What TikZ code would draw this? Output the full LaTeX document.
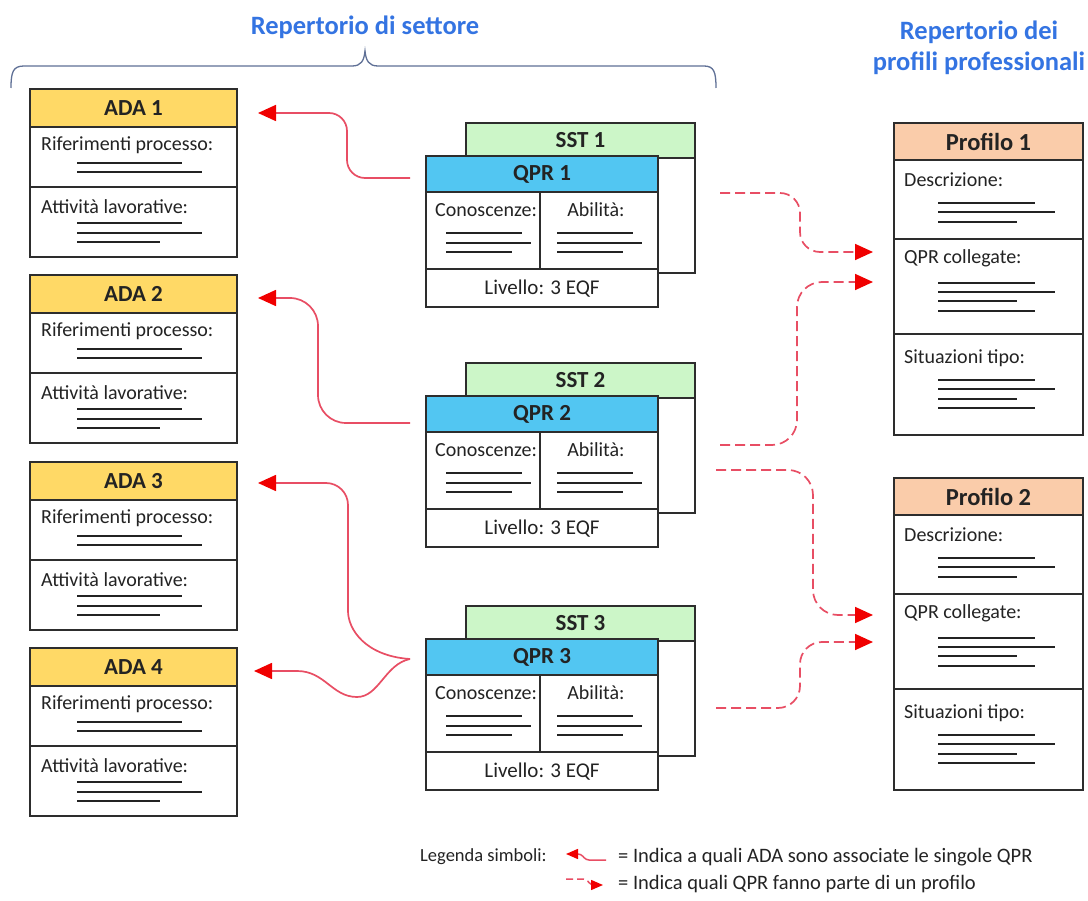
\documentclass[tikz,border=0pt]{standalone}
\usepackage{fontspec}
\setmainfont{Carlito}
\usetikzlibrary{arrows.meta,calc}

\definecolor{adafill}{RGB}{255,217,102}
\definecolor{sstfill}{RGB}{204,246,200}
\definecolor{qprfill}{RGB}{82,198,242}
\definecolor{proffill}{RGB}{250,204,170}
\definecolor{boxdraw}{RGB}{45,45,45}
\definecolor{txt}{RGB}{35,35,35}
\definecolor{titleblue}{RGB}{52,116,226}
\definecolor{bracecol}{RGB}{95,112,150}
\definecolor{linkred}{RGB}{232,78,100}
\definecolor{tipred}{RGB}{240,0,0}

\tikzset{
  boxframe/.style={draw=boxdraw, line width=1.7pt, rectangle, inner sep=0pt, outer sep=0pt, anchor=north west},
  hdr/.style={boxframe, font=\fontsize{23}{26}\selectfont\bfseries, text=txt},
  lbl/.style={font=\fontsize{20}{23}\selectfont, text=txt, inner sep=0pt, anchor=west},
  leg/.style={font=\fontsize{20.5}{24}\selectfont, text=txt, inner sep=0pt, anchor=west},
  title/.style={font=\fontsize{26.5}{31}\selectfont\bfseries, text=titleblue, inner sep=0pt, align=center},
  fillline/.style={draw=txt, line width=1.5pt},
  sepline/.style={draw=boxdraw, line width=1.7pt},
  solidarr/.style={draw=linkred, line width=1.7pt, -{Triangle[length=18pt,width=16pt,color=tipred]}},
  dasharr/.style={solidarr, dash pattern=on 10pt off 5pt},
  legsolid/.style={draw=linkred, line width=1.5pt, -{Triangle[length=12pt,width=10pt,color=tipred]}},
  legdash/.style={legsolid, dash pattern=on 7pt off 4pt},
}

% ADA card: name, top edge, title
\newcommand\adablock[3]{%
  \node[boxframe, minimum width=207pt, minimum height=168pt] (#1) at (30,#2) {};
  \node[hdr, fill=adafill, minimum width=207pt, minimum height=38pt] (#1h) at (30,#2) {#3};
  \draw[sepline] (30,{#2+98}) -- (237,{#2+98});
  \node[lbl] (#1r) at (41,{#2+56}) {Riferimenti processo:};
  \draw[fillline] (77,{#2+74}) -- (182,{#2+74}) (77,{#2+83}) -- (202,{#2+83});
  \node[lbl] (#1a) at (41,{#2+118}) {Attività lavorative:};
  \draw[fillline] (77,{#2+134}) -- (182,{#2+134}) (77,{#2+144}) -- (202,{#2+144})
                  (77,{#2+153}) -- (160,{#2+153});
}

% SST card with its QPR card in front: index, top edge of the SST card
\newcommand\qprblock[2]{%
  \node[boxframe, fill=white, minimum width=229pt, minimum height=150pt] (sst#1) at (466,#2) {};
  \node[hdr, fill=sstfill, minimum width=229pt, minimum height=35pt] (sst#1h) at (466,#2) {SST #1};
  \node[boxframe, fill=white, minimum width=232pt, minimum height=151pt] (qprbox#1) at (426,{#2+33}) {};
  \node[hdr, fill=qprfill, minimum width=232pt, minimum height=36pt] (qpr#1) at (426,{#2+33}) {QPR #1};
  \draw[sepline] (426,{#2+146}) -- (658,{#2+146}) (540,{#2+69}) -- (540,{#2+146});
  \node[lbl] (con#1) at (435,{#2+87}) {Conoscenze:};
  \node[lbl, anchor=center] (abi#1) at (596,{#2+87}) {Abilità:};
  \draw[fillline] (446,{#2+110}) -- (522,{#2+110}) (446,{#2+120}) -- (531,{#2+120})
                  (446,{#2+129}) -- (512,{#2+129});
  \draw[fillline] (557,{#2+110}) -- (633,{#2+110}) (557,{#2+120}) -- (642,{#2+120})
                  (557,{#2+129}) -- (623,{#2+129});
  \node[lbl, anchor=center, font=\fontsize{21}{24}\selectfont] (liv#1) at (542,{#2+166}) {Livello: 3 EQF};
}

% Profile card: name, top edge, title
\newcommand\profblock[3]{%
  \node[boxframe, minimum width=189pt, minimum height=312pt] (#1) at (894,#2) {};
  \node[hdr, fill=proffill, minimum width=189pt, minimum height=37pt, font=\fontsize{24.5}{28}\selectfont\bfseries] (#1h) at (894,#2) {#3};
  \draw[sepline] (894,{#2+116}) -- (1083,{#2+116}) (894,{#2+211}) -- (1083,{#2+211});
  \node[lbl] (#1d) at (904,{#2+57}) {Descrizione:};
  \draw[fillline] (938,{#2+80}) -- (1035,{#2+80}) (938,{#2+89}) -- (1055,{#2+89})
                  (938,{#2+99}) -- (1017,{#2+99});
  \node[lbl] (#1q) at (904,{#2+135}) {QPR collegate:};
  \draw[fillline] (938,{#2+160}) -- (1035,{#2+160}) (938,{#2+169}) -- (1055,{#2+169})
                  (938,{#2+178}) -- (1017,{#2+178}) (938,{#2+188}) -- (1035,{#2+188});
  \node[lbl] (#1s) at (904,{#2+235}) {Situazioni tipo:};
  \draw[fillline] (938,{#2+257}) -- (1035,{#2+257}) (938,{#2+266}) -- (1055,{#2+266})
                  (938,{#2+276}) -- (1017,{#2+276}) (938,{#2+285}) -- (1035,{#2+285});
}

\begin{document}
\begin{tikzpicture}[x=1pt,y=-1pt]
  \fill[white] (0,0) rectangle (1088,901);
  \useasboundingbox (0,0) rectangle (1088,901);

  % headings
  \node[title] (tsett) at (365,27) {Repertorio di settore};
  \node[title] (tprof) at (979,48) {Repertorio dei\\profili professionali};

  % curly bracket over the sector repertory
  \draw[bracecol, line width=1.3pt]
    (11,88) .. controls (11,72) and (13,66) .. (24,66) -- (352,66)
    .. controls (361,66) and (364,61) .. (365,51)
    .. controls (366,61) and (369,66) .. (378,66) -- (704,66)
    .. controls (714,66) and (716,72) .. (716,88);

  % cards
  \adablock{ada1}{89}{ADA 1}
  \adablock{ada2}{275}{ADA 2}
  \adablock{ada3}{462}{ADA 3}
  \adablock{ada4}{648}{ADA 4}

  \qprblock{1}{123}
  \qprblock{2}{363}
  \qprblock{3}{606}

  \profblock{prof1}{123}{Profilo 1}
  \profblock{prof2}{478}{Profilo 2}

  % QPR -> ADA links
  \draw[solidarr, rounded corners=18pt]
    ($(qpr1.west)+(-16,4)$) -| ($(ada1h.east)+(110,5)$) -- ($(ada1h.east)+(21,5)$);
  \draw[solidarr, rounded corners=28pt]
    ($(qpr2.west)+(-16,9)$) -| ($(ada2h.east)+(81,4)$) -- ($(ada2h.east)+(21,4)$);
  \coordinate (s3) at ($(qpr3.west)+(-16,2)$);
  \draw[solidarr, rounded corners=22pt]
    (s3) .. controls +(-45,-3) and +(0,40) .. ($(s3)+(-62,-70)$) |- ($(ada3h.east)+(21,2)$);
  \draw[solidarr]
    (s3) .. controls +(-25,5) and +(22,0) .. ($(s3)+(-53,38)$)
         .. controls +(-25,0) and +(28,0) .. ($(ada4h.east)+(60,4)$) -- ($(ada4h.east)+(17,4)$);

  % QPR -> profile links
  \draw[dasharr, rounded corners=20pt]
    ($(sst1.east)+(25,-5)$) -- ++(80,0) |- ($(prof1.north west)+(-21,129)$);
  \draw[dasharr, rounded corners=25pt]
    ($(sst2.east)+(25,7)$) -- ++(77,0) |- ($(prof1.north west)+(-21,159)$);
  \draw[dasharr, rounded corners=25pt]
    ($(sst2.east)+(21,32)$) -- ++(97,0) |- ($(prof2.north west)+(-21,137)$);
  \draw[dasharr, rounded corners=22pt]
    ($(sst3.east)+(21,27)$) -- ++(84,0) |- ($(prof2.north west)+(-21,164)$);

  % legend
  \node[leg, font=\fontsize{18.5}{22}\selectfont] (legt) at (420,857) {Legenda simboli:};
  \coordinate (l1a) at (606,860);
  \coordinate (l1b) at (566,854);
  \draw[legsolid, rounded corners=3pt] (l1a) -- ++(-20,0) -- ++(-5,-6) -- (l1b);
  \node[leg] (leg1) at (618,857) {= Indica a quali ADA sono associate le singole QPR};
  \coordinate (l2a) at (566,879);
  \coordinate (l2b) at (603,885);
  \draw[legdash, rounded corners=3pt] (l2a) -- ++(20,0) -- ++(5,6) -- (l2b);
  \node[leg] (leg2) at (618,884) {= Indica quali QPR fanno parte di un profilo};
\end{tikzpicture}
\end{document}
